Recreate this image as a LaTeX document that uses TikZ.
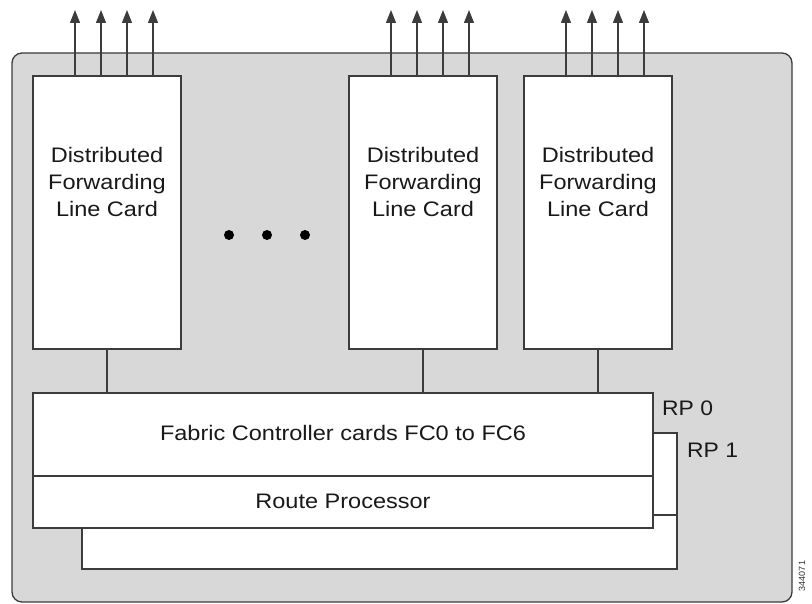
\documentclass[tikz,border=0pt]{standalone}
\usepackage{fontspec}
\setmainfont{Liberation Sans}
\usetikzlibrary{arrows.meta,calc}
\definecolor{bggray}{HTML}{D8D8D8}
\definecolor{edge}{HTML}{3C3C3C}
\begin{document}
\begin{tikzpicture}[x=1pt,y=-1pt,
  box/.style={draw=edge,line width=1.3pt,fill=white,anchor=north west,inner sep=0pt,outer sep=0pt},
  txt/.style={font=\fontsize{21}{27}\selectfont,align=center,inner sep=0pt,xscale=1.12,text=black!90},
  small/.style={font=\fontsize{21}{27}\selectfont,inner sep=0pt,xscale=1.09,text=black!90},
  wire/.style={draw=edge,line width=1.3pt},
  arr/.style={draw=edge,line width=1.3pt,-{Triangle[length=13pt,width=10pt]}},
  dot/.style={circle,fill=black,inner sep=0pt,minimum size=10pt}]
\useasboundingbox (0,0) rectangle (812,604);
% chassis
\node[box,fill=bggray,rounded corners=10pt,minimum width=780pt,minimum height=549pt] (chassis) at (12,53) {};
% line cards
\node[box,minimum width=148pt,minimum height=273pt] (c1) at (33,76) {};
\node[box,minimum width=148pt,minimum height=273pt] (c2) at (349,76) {};
\node[box,minimum width=148pt,minimum height=273pt] (c3) at (524,76) {};
\node[txt] (t1) at (107,182) {Distributed\\Forwarding\\Line Card};
\node[txt] (t2) at (423,182) {Distributed\\Forwarding\\Line Card};
\node[txt] (t3) at (598,182) {Distributed\\Forwarding\\Line Card};
% arrows
\foreach \c in {c1,c2,c3}{
  \foreach \dx [count=\i] in {42,68,94,120}{
    \coordinate (\c-a\i) at ($(\c.north west)+(\dx,-66)$);
    \draw[arr] ($(\c.north west)+(\dx,0)$) -- (\c-a\i);
  }
}
% dots
\node[dot] (d1) at (229,235) {};
\node[dot] (d2) at (267,235) {};
\node[dot] (d3) at (305,235) {};
% RP 1 (behind)
\node[box,minimum width=595pt,minimum height=82pt] (rp1fc) at (82,433) {};
\node[box,minimum width=595pt,minimum height=54pt] (rp1rp) at (82,515) {};
% RP 0
\node[box,minimum width=620pt,minimum height=83pt] (fc) at (33,393) {};
\node[box,minimum width=620pt,minimum height=52pt] (rp) at (33,476) {};
\node[txt] (fct) at (343,433) {Fabric Controller cards FC0 to FC6};
\node[txt] (rpt) at (343,501) {Route Processor};
% connectors
\draw[wire] (c1.south) -- (c1.south |- fc.north);
\draw[wire] (c2.south) -- (c2.south |- fc.north);
\draw[wire] (c3.south) -- (c3.south |- fc.north);
% labels
\node[small,anchor=west] (rp0l) at (662,408) {RP 0};
\node[small,anchor=west] (rp1l) at (687,450) {RP 1};
\node[font=\fontsize{9}{10}\selectfont,rotate=90,inner sep=0pt,text=black!80] (fig) at (802,576) {344071};
\end{tikzpicture}
\end{document}
